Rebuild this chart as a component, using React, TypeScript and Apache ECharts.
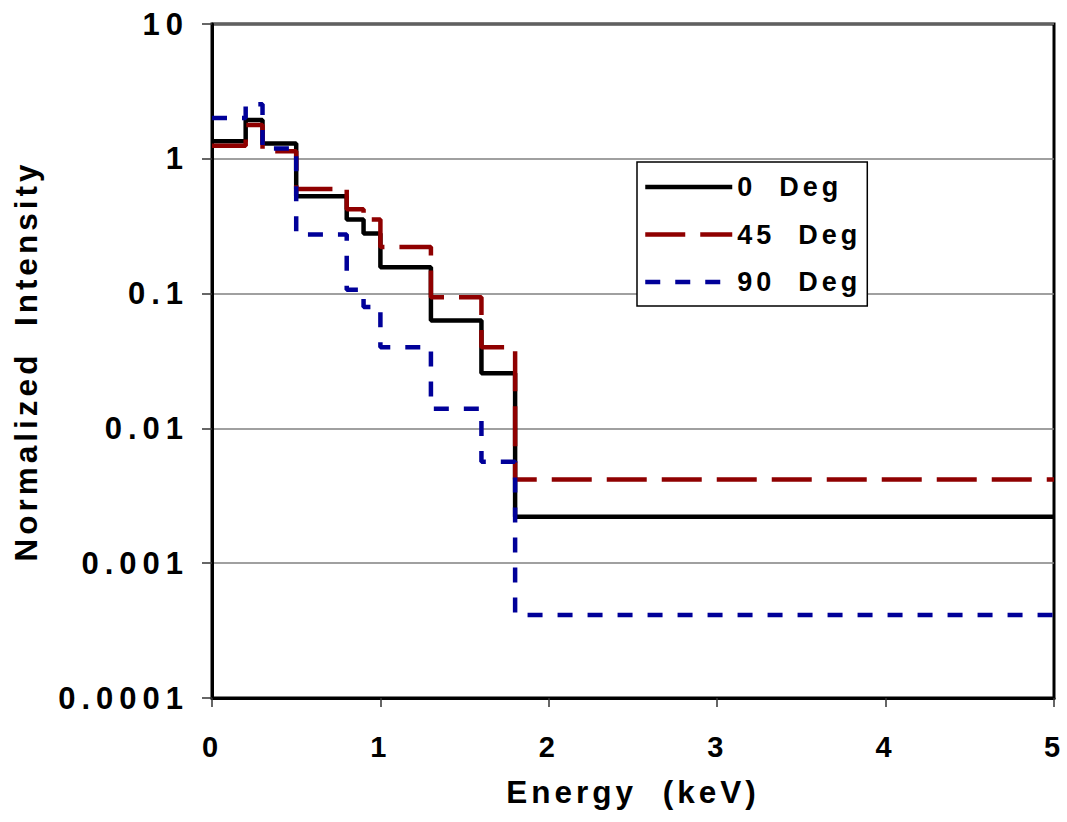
import React, { useEffect, useRef } from "react";
import * as echarts from "echarts";

const energyEdges = [0, 0.2, 0.3, 0.5, 0.8, 0.9, 1.0, 1.3, 1.6, 1.8, 5];
const deg0 = [1.35, 1.94, 1.3, 0.527, 0.354, 0.279, 0.157, 0.0632, 0.0257, 0.00221, 0.00221];
const deg45 = [1.25, 1.78, 1.14, 0.598, 0.422, 0.354, 0.222, 0.0938, 0.04, 0.00417, 0.00417];
const deg90 = [2.01, 2.54, 1.19, 0.274, 0.107, 0.0794, 0.04, 0.014, 0.00566, 0.000413, 0.000413];
const seriesNames = ["0  Deg", "45  Deg", "90  Deg"];
const xTickLabels = ["0", "1", "2", "3", "4", "5"];
const yTickLabels = ["0.0001", "0.001", "0.01", "0.1", "1", "10"];

const FONT = "'Liberation Sans', Arial, Helvetica, sans-serif";

export default function App() {
  const ref = useRef<HTMLDivElement>(null);
  useEffect(() => {
    if (!ref.current) return;
    const chart = echarts.init(ref.current, undefined, { renderer: "svg" });
    const mk = (vals: number[]) => energyEdges.map((x, i) => [x, vals[i]]);
    chart.setOption({
      animation: false,
      backgroundColor: "#ffffff",
      textStyle: { fontFamily: FONT },
      grid: {
        left: 212,
        right: 13,
        top: 24,
        bottom: 124,
        show: true,
        borderColor: "#000",
        borderWidth: 3,
        backgroundColor: "transparent",
      },
      legend: {
        orient: "vertical",
        left: 637,
        top: 162,
        padding: [11.5, 34, 10.5, 6],
        itemWidth: 87,
        itemHeight: 27,
        itemGap: 20.5,
        backgroundColor: "#fff",
        borderColor: "#000",
        borderWidth: 1.5,
        borderRadius: 0,
        lineStyle: { width: 4.5 },
        itemStyle: { color: "transparent", borderColor: "transparent", borderWidth: 0, opacity: 0 },
        textStyle: { fontFamily: FONT, fontSize: 27, fontWeight: "bold", color: "#000" },
        data: seriesNames,
      },
      xAxis: {
        type: "value",
        min: 0,
        max: 5,
        interval: 1,
        name: "Energy  (keV)",
        nameLocation: "middle",
        nameGap: 78,
        nameTextStyle: { fontFamily: FONT, fontSize: 31.5, fontWeight: "bold", color: "#000" },
        axisLine: { show: true, lineStyle: { color: "#000", width: 3 } },
        axisTick: { show: true, inside: false, length: 9, lineStyle: { color: "#333", width: 1.5 } },
        axisLabel: {
          margin: 34,
          fontFamily: FONT,
          fontSize: 29,
          fontWeight: "bold",
          color: "#000",
          formatter: (v: number) => xTickLabels[Math.round(v)] ?? String(v),
        },
        splitLine: { show: false },
      },
      yAxis: {
        type: "log",
        logBase: 10,
        min: 0.0001,
        max: 10,
        name: "Normalized  Intensity",
        nameLocation: "middle",
        nameGap: 170,
        nameTextStyle: { fontFamily: FONT, fontSize: 31.5, fontWeight: "bold", color: "#000" },
        axisLine: { show: true, lineStyle: { color: "#000", width: 3 } },
        axisTick: { show: true, inside: false, length: 10, lineStyle: { color: "#333", width: 1.5 } },
        axisLabel: {
          margin: 23,
          fontFamily: FONT,
          fontSize: 31,
          fontWeight: "bold",
          color: "#000",
          formatter: (v: number) => yTickLabels[Math.round(Math.log10(v)) + 4] ?? String(v),
        },
        splitLine: { show: true, lineStyle: { color: "#808080", width: 1.5 } },
        minorTick: { show: false },
      },
      series: [
        {
          name: seriesNames[0],
          type: "line",
          step: "end",
          symbol: "none",
          data: mk(deg0),
          lineStyle: { color: "#000000", width: 4.5, type: "solid" },
          itemStyle: { color: "#000000" },
          z: 3,
        },
        {
          name: seriesNames[1],
          type: "line",
          step: "end",
          symbol: "none",
          data: mk(deg45),
          lineStyle: { color: "#8f0000", width: 4.5, type: [40, 15] },
          itemStyle: { color: "#8f0000" },
          z: 4,
        },
        {
          name: seriesNames[2],
          type: "line",
          step: "end",
          symbol: "none",
          data: mk(deg90),
          lineStyle: { color: "#000099", width: 4.5, type: [15, 15] },
          itemStyle: { color: "#000099" },
          z: 5,
        },
      ],
    });
    return () => chart.dispose();
  }, []);
  return (
    <>
      <style>{`#chartbox text[style*="31px"] { letter-spacing: 6px; }`}</style>
      <div
        id="chartbox"
        ref={ref}
        style={{
          position: "fixed",
          left: 0,
          top: 0,
          width: 1067,
          height: 822,
          background: "#fff",
          letterSpacing: "4px",
          whiteSpace: "pre",
        }}
      />
    </>
  );
}
